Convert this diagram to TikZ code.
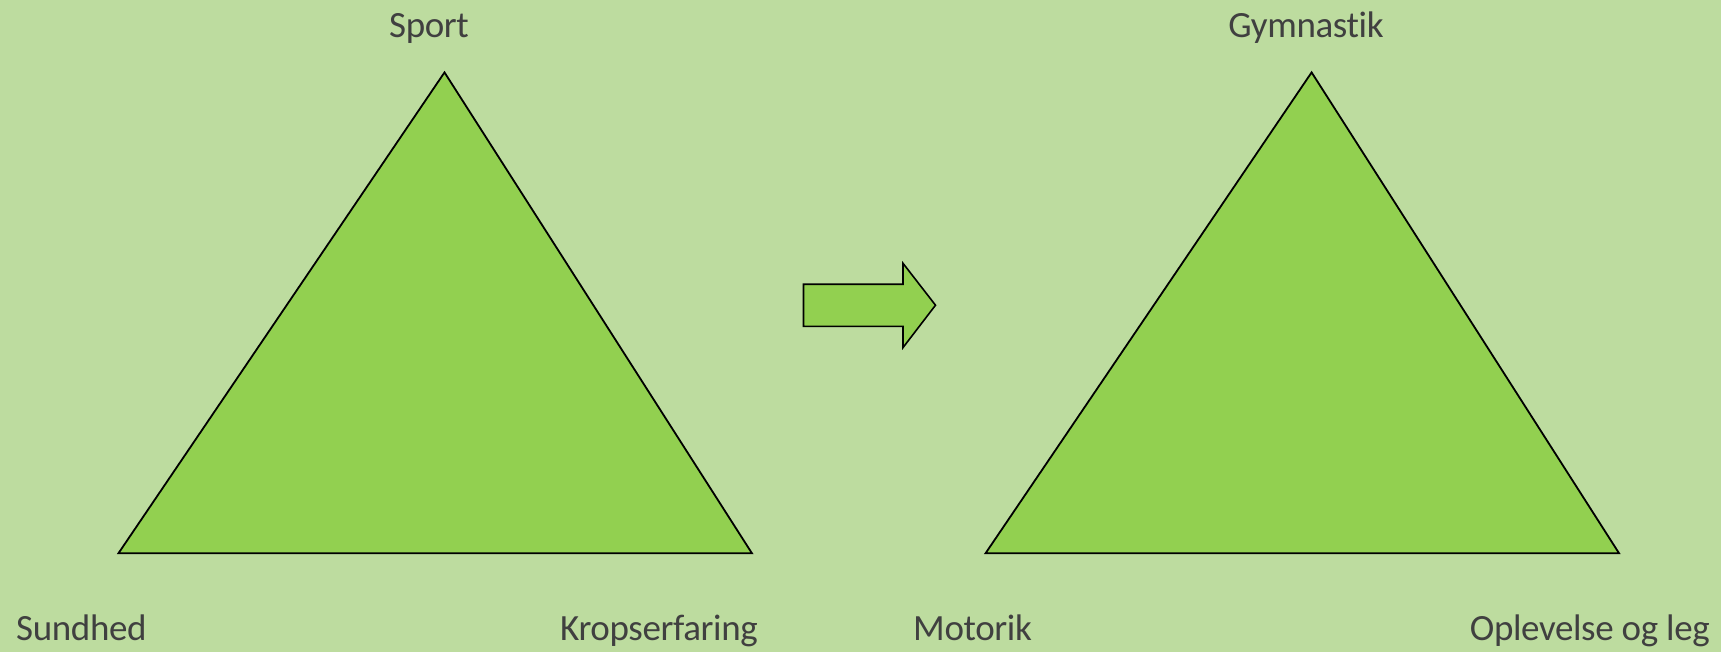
\documentclass[tikz,border=0pt]{standalone}
\usepackage{fontspec}
\setmainfont{Carlito}[Ligatures=NoCommon,LetterSpace=-1]
\definecolor{bg}{RGB}{189,220,159}
\definecolor{tri}{RGB}{146,208,80}
\definecolor{txt}{RGB}{64,64,64}
\begin{document}
\begin{tikzpicture}[x=1pt,y=-1pt,
  lbl/.style={inner sep=0pt,text=txt,font=\fontsize{37}{40}\selectfont},
  greenshape/.style={fill=tri,draw=black,line width=1.8pt,line join=miter}]
\fill[bg] (0,0) rectangle (1721,652);
\useasboundingbox (0,0) rectangle (1721,652);
% left triangle
\coordinate (LA) at (444.5,72.4);
\coordinate (LB) at (118.5,553.2);
\coordinate (LC) at (751.9,553.2);
\draw[greenshape] (LA) -- (LB) -- (LC) -- cycle;
% right triangle
\coordinate (RA) at (1311.6,72.4);
\coordinate (RB) at (985.6,553.2);
\coordinate (RC) at (1619,553.2);
\draw[greenshape] (RA) -- (RB) -- (RC) -- cycle;
% arrow
\draw[greenshape,line width=1.6pt] (803.5,284.3) -- (903,284.3) -- (903,263.3) -- (935.5,305.2) -- (903,347.6) -- (903,326.3) -- (803.5,326.3) -- cycle;
% labels
\node[lbl,anchor=base] (sport) at (429,38) {Sport};
\node[lbl,anchor=base] (gym) at (1306,38) {Gymnastik};
\node[lbl,anchor=base west] (sund) at (16,640) {Sundhed};
\node[lbl,anchor=base west] (krop) at (560,640) {Kropserfaring};
\node[lbl,anchor=base west] (motor) at (913,640) {Motorik};
\node[lbl,anchor=base east] (opl) at (1710,640) {Oplevelse og leg};
\end{tikzpicture}
\end{document}
